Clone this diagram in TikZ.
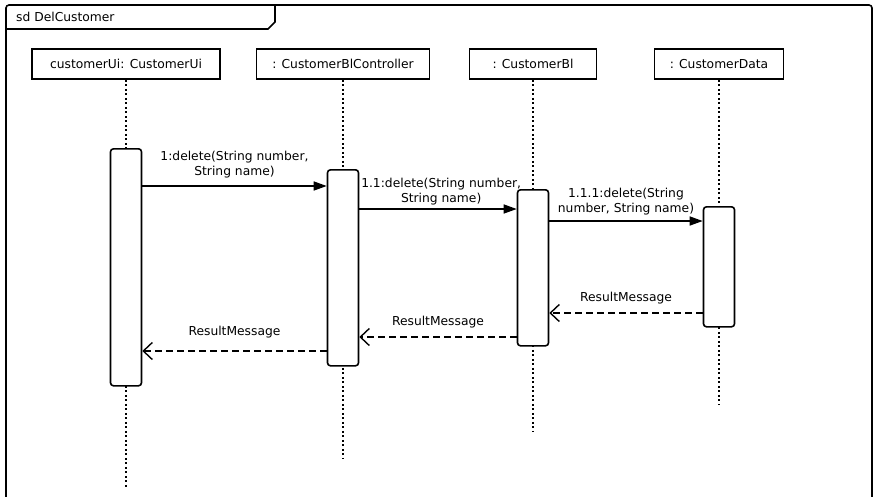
\documentclass[tikz,border=0pt]{standalone}
\usepackage{fontspec}
\setmainfont{DejaVu Sans}
\usetikzlibrary{arrows.meta}
\begin{document}
\begin{tikzpicture}[x=1pt,y=-1pt,
  every node/.style={font=\fontsize{12.3}{15}\selectfont, inner sep=0pt},
  head/.style={draw, line width=1.8pt, minimum height=30pt, anchor=north},
  act/.style={draw, line width=1.6pt, rounded corners=3pt, fill=white, minimum width=31pt, anchor=north},
  life/.style={line width=2pt, dash pattern=on 2pt off 2.5pt},
  call/.style={line width=1.5pt, -{Triangle[length=13pt,width=9pt]}},
  ret/.style={line width=1.5pt, dash pattern=on 7pt off 4pt, -{Straight Barb[length=9pt,width=17pt,line width=1.4pt]}},
  lbl/.style={align=center}
]
\useasboundingbox (0,0) rectangle (877,496);
% frame
\draw[line width=1.6pt, rounded corners=3pt] (6,497) -- (6,5) -- (872,5) -- (872,497);
\draw[line width=1.6pt] (6,29) -- (268,29) -- (275,22) -- (275,5);
\node[anchor=west] (title) at (16,17) {sd DelCustomer};
% heads
\node[head, minimum width=188pt] (h1) at (126,48) {customerUi: CustomerUi};
\node[head, minimum width=173pt] (h2) at (343,48) {: CustomerBlController};
\node[head, minimum width=127pt] (h3) at (533,48) {: CustomerBl};
\node[head, minimum width=129pt] (h4) at (719,48) {: CustomerData};
% lifeline ends
\coordinate (e1) at (126,487);
\coordinate (e2) at (343,458);
\coordinate (e3) at (533,432);
\coordinate (e4) at (719,405);
\draw[life] (h1.south) -- (e1);
\draw[life] (h2.south) -- (e2);
\draw[life] (h3.south) -- (e3);
\draw[life] (h4.south) -- (e4);
% activations
\node[act, minimum height=237pt] (a1) at (126,148) {};
\node[act, minimum height=196pt] (a2) at (343,169) {};
\node[act, minimum height=156pt] (a3) at (533,189) {};
\node[act, minimum height=120pt] (a4) at (719,206) {};
% message levels
\coordinate (m1) at (0,186);
\coordinate (m2) at (0,209);
\coordinate (m3) at (0,221);
\coordinate (r3) at (0,313);
\coordinate (r2) at (0,337);
\coordinate (r1) at (0,351);
\draw[call] (a1.east |- m1) -- node[lbl, above=7pt] {1:delete(String number,\\String name)} (a2.west |- m1);
\draw[call] (a2.east |- m2) -- node[lbl, above=3pt, pos=0.52] {1.1:delete(String number,\\String name)} (a3.west |- m2);
\draw[call] (a3.east |- m3) -- node[lbl, above=5pt, pos=0.5] {1.1.1:delete(String\\number, String name)} (a4.west |- m3);
\draw[ret] (a4.west |- r3) -- node[lbl, above=8pt] {ResultMessage} (a3.east |- r3);
\draw[ret] (a3.west |- r2) -- node[lbl, above=8pt] {ResultMessage} (a2.east |- r2);
\draw[ret] (a2.west |- r1) -- node[lbl, above=12pt] {ResultMessage} (a1.east |- r1);
\end{tikzpicture}
\end{document}
